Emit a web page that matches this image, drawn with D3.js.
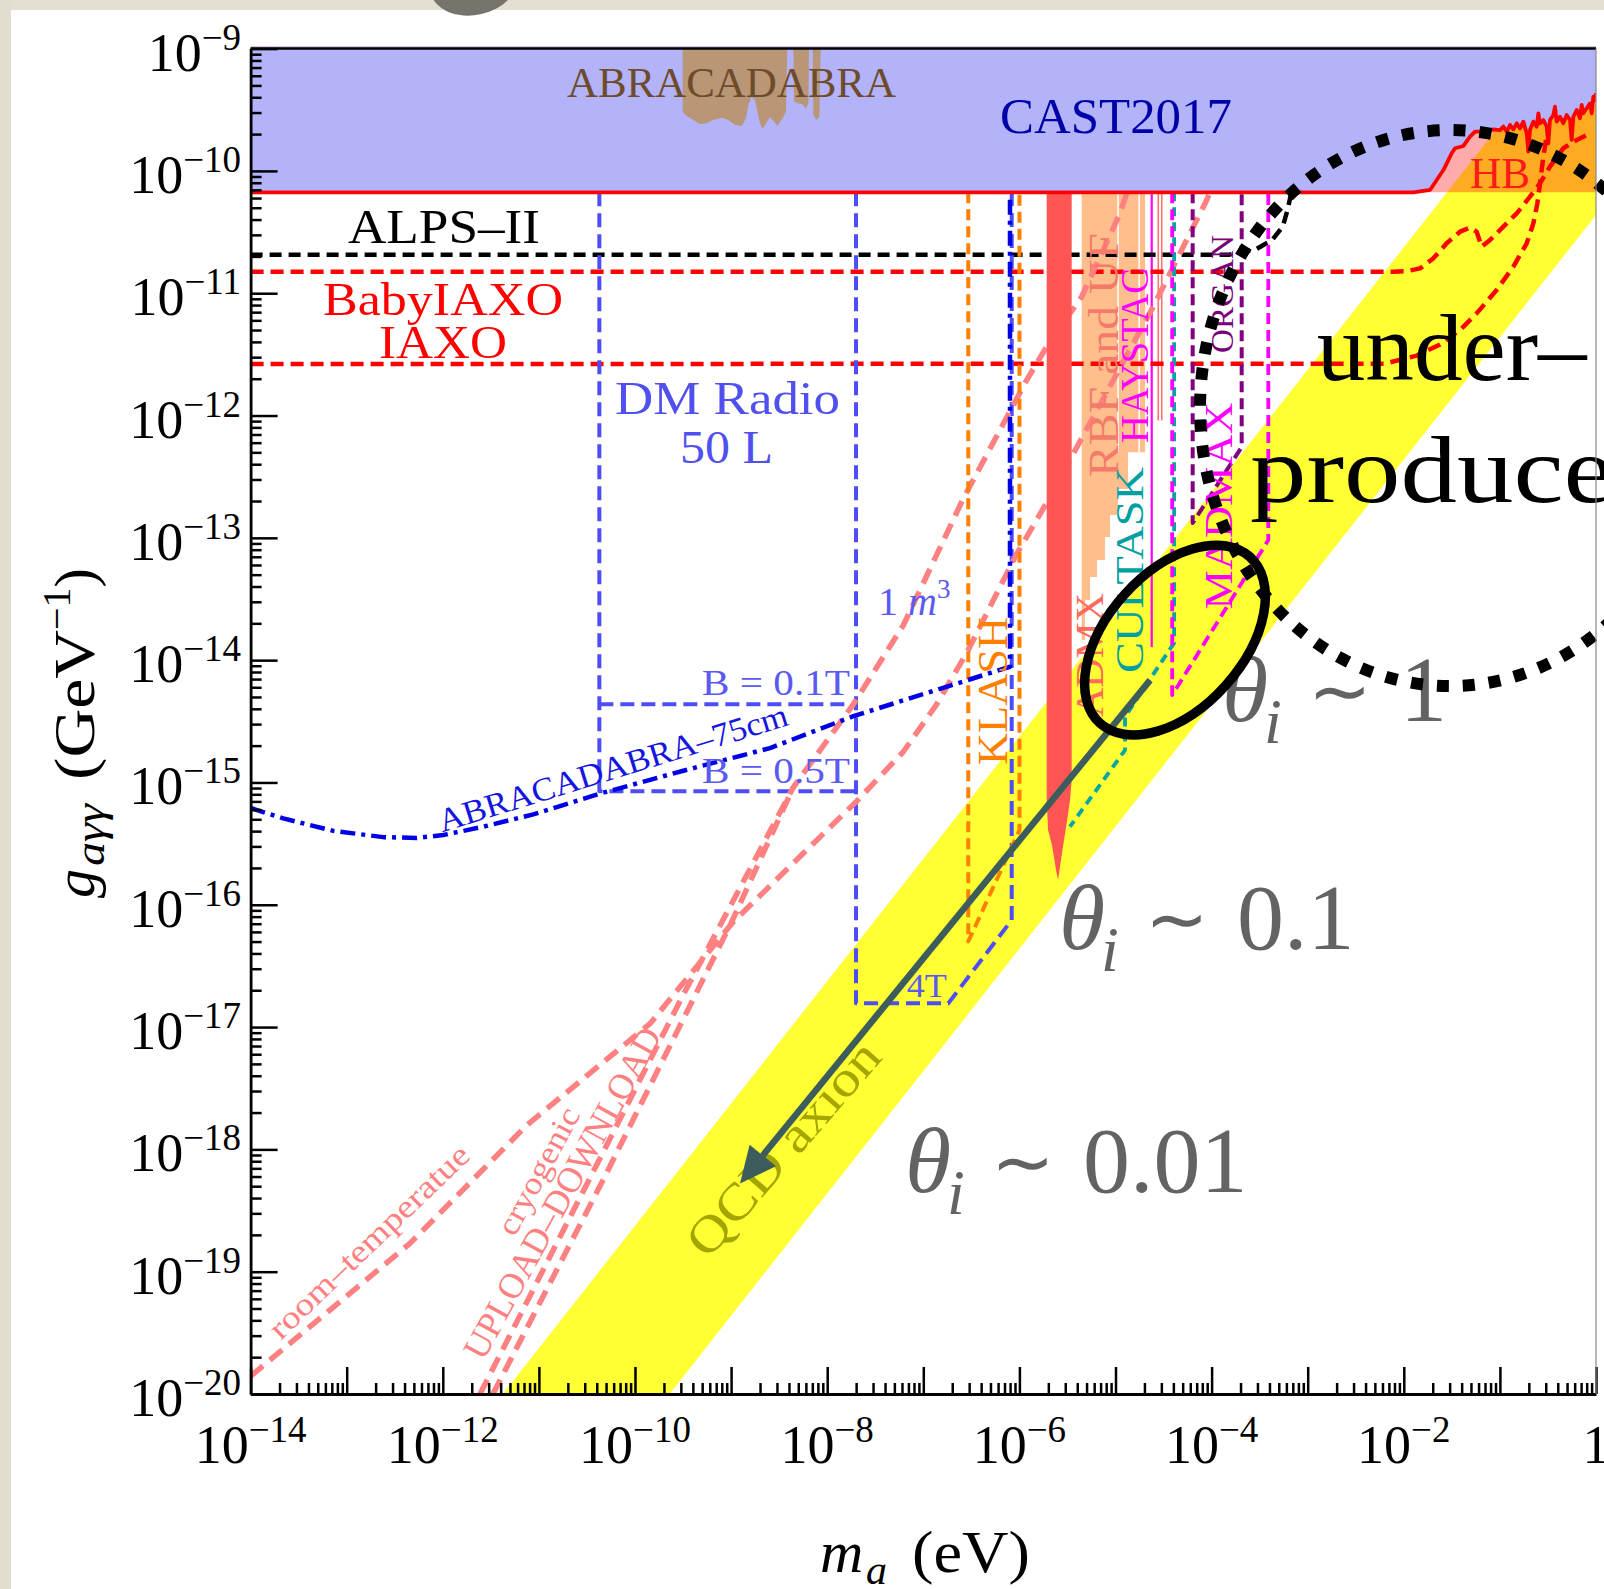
<!DOCTYPE html>
<html>
<head>
<meta charset="utf-8">
<script src="https://cdn.jsdelivr.net/npm/d3@7"></script>
<style>
  html, body { margin: 0; padding: 0; background: #ffffff; }
  svg { display: block; }
  text { font-family: 'Liberation Serif', 'Times New Roman', serif; }
</style>
</head>
<body>
<svg id="chart" width="1604" height="1589"></svg>
<script>
// ---------- axis ranges & ticks (log10 exponents) ----------
const massDomain = [1e-14, 1];
const couplingDomain = [1e-20, 1e-9];
const xMajorExp = d3.range(-14, 1);          // every decade gets a long tick
const xLabelExp = [-14, -12, -10, -8, -6, -4, -2, 0];
const yMajorExp = d3.range(-20, -8);
const yLabelExp = d3.range(-20, -8);

// ---------- curves, all as [log10 m_a (eV), log10 g (GeV^-1)] ----------
const castLimit = [
  [-14, -10.175], [-1.90, -10.175], [-1.727, -10.156], [-1.658, -10.074], [-1.588, -9.993],
  [-1.502, -9.856], [-1.467, -9.815], [-1.380, -9.796], [-1.311, -9.720], [-1.259, -9.679],
  [-1.138, -9.679], [-1.068, -9.660], [-0.999, -9.666], [-0.964, -9.638], [-0.929, -9.679],
  [-0.895, -9.625], [-0.860, -9.660], [-0.825, -9.611], [-0.791, -9.652], [-0.756, -9.597],
  [-0.721, -9.693], [-0.704, -9.843], [-0.687, -9.666], [-0.652, -9.597], [-0.617, -9.638],
  [-0.600, -9.529], [-0.583, -9.611], [-0.548, -9.584], [-0.513, -9.638], [-0.496, -9.775],
  [-0.479, -9.584], [-0.444, -9.543], [-0.427, -9.475], [-0.409, -9.597], [-0.375, -9.557],
  [-0.340, -9.611], [-0.305, -9.543], [-0.270, -9.584], [-0.253, -9.747], [-0.236, -9.557],
  [-0.201, -9.502], [-0.167, -9.570], [-0.149, -9.461], [-0.132, -9.529], [-0.097, -9.488],
  [-0.062, -9.448], [-0.045, -9.529], [-0.028, -9.393], [-0.010, -9.420], [0, -9.366]
];
const hbLimit = -10.175;

const abraTenCm = [
  [[-9.504, -9.0], [-9.504, -9.516], [-9.462, -9.551], [-9.393, -9.584], [-9.324, -9.617],
   [-9.254, -9.611], [-9.185, -9.584], [-9.098, -9.565], [-9.029, -9.584], [-8.959, -9.625],
   [-8.890, -9.633], [-8.845, -9.570], [-8.821, -9.461], [-8.786, -9.393], [-8.751, -9.420],
   [-8.727, -9.516], [-8.699, -9.611], [-8.672, -9.660], [-8.637, -9.611], [-8.595, -9.562],
   [-8.554, -9.597], [-8.519, -9.633], [-8.474, -9.584], [-8.429, -9.516], [-8.415, -9.0]],
  [[-8.352, -9.0], [-8.345, -9.434], [-8.300, -9.448], [-8.259, -9.453], [-8.221, -9.489],
   [-8.196, -9.448], [-8.189, -9.0]],
  [[-8.151, -9.0], [-8.144, -9.543], [-8.110, -9.584], [-8.082, -9.557], [-8.068, -9.0]]
];

const qcdBandUpper = [[-11.375, -20], [0, -8.625]];
const qcdBandLower = [[-9.64, -20], [0, -10.36]];

const alpsII = [[-14, -10.685], [-3.82, -10.685], [-3.54, -10.641], [-3.37, -10.565],
  [-3.26, -10.456], [-3.21, -10.319], [-3.18, -10.211], [-3.17, -10.175]];

const babyIaxo = [[-14, -10.824], [-2.109, -10.824], [-1.970, -10.820], [-1.831, -10.797],
  [-1.693, -10.715], [-1.554, -10.592], [-1.415, -10.497], [-1.311, -10.464], [-1.242, -10.497],
  [-1.190, -10.619], [-1.103, -10.565], [-0.964, -10.456], [-0.825, -10.347], [-0.687, -10.211],
  [-0.583, -10.102], [-0.479, -9.965], [-0.340, -9.815], [-0.201, -9.747], [-0.062, -9.693]];

const iaxo = [[-14, -11.579], [-2.20, -11.576], [-1.866, -11.51], [-1.623, -11.42],
  [-1.40, -11.29], [-1.242, -11.165], [-1.034, -10.974], [-0.860, -10.783], [-0.721, -10.592],
  [-0.652, -10.429], [-0.610, -10.265], [-0.583, -10.102], [-0.548, -9.884], [-0.520, -9.747]];

const dmRadio50L = [[-10.371, -10.175], [-10.371, -15.072], [-7.70, -15.072]];
const dmRadio50LLowField = [[-10.371, -14.361], [-7.70, -14.361]];
const dmRadio1m3 = [[-7.70, -10.175], [-7.70, -16.806], [-6.74, -16.806], [-6.08, -16.125], [-6.08, -10.175]];

const abra75cm = [[-14, -15.209], [-13.660, -15.294], [-13.139, -15.396], [-12.619, -15.447],
  [-12.272, -15.454], [-11.995, -15.430], [-11.579, -15.362], [-11.058, -15.261],
  [-10.364, -15.091], [-9.497, -14.904], [-8.595, -14.719], [-7.728, -14.458],
  [-6.098, -14.054], [-6.098, -10.175]];

const lcRoomTemp = [[-14, -19.854], [-12.342, -18.769], [-11.127, -17.803], [-9.844, -16.972],
  [-8.977, -16.139], [-7.693, -15.153], [-7.208, -14.749], [-6.861, -14.361], [-6.548, -13.940],
  [-6.028, -13.132], [-5.716, -12.712], [-4.607, -11.110], [-4.051, -10.238], [-4.017, -10.175]];
const uploadDownload = [[-11.613, -20.0], [-9.497, -16.735], [-8.353, -15.040], [-7.728, -14.361],
  [-7.208, -13.715], [-6.584, -12.679], [-5.924, -11.710], [-5.716, -11.437], [-5.352, -11.029],
  [-4.953, -10.347], [-4.880, -10.175]];
const lcCryogenic = [[-11.478, -20.0], [-10.3, -18.2], [-9.0, -16.15], [-8.353, -15.040]];

const klash = [[-6.532, -10.175], [-6.532, -16.30], [-5.999, -15.39], [-5.999, -10.175]];

const admxRegion = [[-5.716, -10.175], [-5.716, -15.144], [-5.702, -15.389], [-5.661, -15.512],
  [-5.619, -15.716], [-5.598, -15.798], [-5.567, -15.634], [-5.536, -15.471], [-5.504, -15.308],
  [-5.473, -15.144], [-5.456, -14.981], [-5.456, -10.175]];

const rbfUfRegion = [[-5.352, -10.175], [-4.692, -10.175], [-4.692, -12.30], [-4.870, -12.30],
  [-4.870, -12.60], [-4.974, -12.60], [-4.974, -12.814], [-5.057, -12.814], [-5.057, -12.994],
  [-5.109, -12.994], [-5.109, -13.182], [-5.192, -13.182], [-5.192, -13.321], [-5.265, -13.321],
  [-5.265, -13.509], [-5.317, -13.509], [-5.317, -13.836], [-5.352, -13.836]];
const rbfUfGaps = [[[-4.974, -10.175], [-4.974, -12.30]], [[-4.754, -10.175], [-4.754, -12.30]]];

const haystacLine = [[-4.623, -10.175], [-4.623, -13.893]];
const thinSalmonLines = [[[-4.555, -10.175], [-4.555, -12.04]], [[-4.519, -10.175], [-4.519, -12.04]]];

const cultask = [[-4.39, -10.175], [-4.39, -13.860], [-4.901, -14.463], [-4.901, -14.735], [-5.474, -15.362]];
const madmax = [[-4.41, -10.175], [-4.41, -14.285], [-3.410, -13.018], [-3.410, -10.175]];
const organ = [[-4.197, -10.175], [-4.197, -12.879], [-3.687, -12.258], [-3.687, -10.175]];

const arrowFrom = [-4.640, -14.163];
const arrowTo = [-8.907, -18.278];
const thetaOneEllipse = { center: [-4.381, -13.836], rx: 112, ry: 68, angle: -48 };
const underProducedEllipse = { center: [-1.519, -11.939], rx: 250, ry: 278 };

// ---------- scales ----------
const X0 = 250.6, X1 = 1596, Y0 = 48.6, Y1 = 1394;
const x = d3.scaleLog().domain(massDomain).range([X0, X1]);
const y = d3.scaleLog().domain(couplingDomain).range([Y1, Y0]);
const px = d => x(Math.pow(10, d[0]));
const py = d => y(Math.pow(10, d[1]));
const line = d3.line().x(px).y(py);

const svg = d3.select('#chart');

// page frame
svg.append('rect').attr('width', 1604).attr('height', 1589).attr('fill', '#ffffff');
svg.append('rect').attr('x', 0).attr('y', 0).attr('width', 1604).attr('height', 10).attr('fill', '#e4dfd1');
svg.append('rect').attr('x', 0).attr('y', 0).attr('width', 11).attr('height', 1589).attr('fill', '#e2ddcf');
svg.append('ellipse').attr('cx', 474).attr('cy', -16).attr('rx', 44).attr('ry', 31)
  .attr('transform', 'rotate(-12,474,-16)').attr('fill', '#76746a');

const defs = svg.append('defs');
defs.append('clipPath').attr('id', 'plotClip').append('rect')
  .attr('x', X0).attr('y', Y0 - 2).attr('width', X1 - X0).attr('height', Y1 - Y0 + 2);

const plot = svg.append('g').attr('clip-path', 'url(#plotClip)');

// QCD axion band
plot.append('path')
  .attr('d', line(qcdBandUpper.concat(qcdBandLower.slice().reverse())) + 'Z')
  .attr('fill', '#ffff33');

// horizontal-branch bound (translucent, under the helioscope limit)
plot.append('path')
  .attr('d', line([[-14, hbLimit], [0, hbLimit], [0, -8.9], [-14, -8.9]]) + 'Z')
  .attr('fill', 'rgba(255,0,0,0.33)');

// CAST 2017 excluded region
plot.append('path')
  .attr('d', line(castLimit.concat([[0, -8.9], [-14, -8.9]])) + 'Z')
  .attr('fill', '#b3b3fa');

// ABRACADABRA-10cm excluded region
abraTenCm.forEach(part => {
  plot.append('path').attr('d', line(part) + 'Z').attr('fill', '#b99676');
});

// RBF & UF region
plot.append('path').attr('d', line(rbfUfRegion) + 'Z').attr('fill', '#ffbe8c');
rbfUfGaps.forEach(g => plot.append('path').attr('d', line(g))
  .attr('stroke', '#ffffff').attr('stroke-width', 1.5).attr('fill', 'none'));

// HAYSTAC and neighbouring thin limits
plot.append('path').attr('d', line(haystacLine)).attr('stroke', '#ff00ff').attr('stroke-width', 2.2).attr('fill', 'none');
thinSalmonLines.forEach(g => plot.append('path').attr('d', line(g))
  .attr('stroke', '#ff7070').attr('stroke-width', 1.6).attr('fill', 'none'));

function dashed(data, color, width, dash) {
  return plot.append('path').attr('d', line(data)).attr('fill', 'none')
    .attr('stroke', color).attr('stroke-width', width).attr('stroke-dasharray', dash)
    .attr('stroke-linejoin', 'round');
}

// projected sensitivities
dashed(alpsII, '#000000', 4.5, '12,7');
dashed(babyIaxo, '#ff0000', 4.5, '13,7');
dashed(iaxo, '#ff0000', 4.5, '13,7');
dashed(dmRadio50L, '#4d4df5', 4, '14,7');
dashed(dmRadio50LLowField, '#4d4df5', 4, '14,7');
dashed(dmRadio1m3, '#4d4df5', 4, '14,7');
dashed(lcRoomTemp, '#ff8080', 5.5, '16,9');
dashed(uploadDownload, '#ff8080', 5.5, '16,9');
dashed(lcCryogenic, '#ff8080', 5.5, '16,9');
dashed(klash, '#ff8000', 4, '11,6');
dashed(abra75cm, '#0000e6', 4.5, '15,6,4,6');
dashed(cultask, '#00a5a5', 3.8, '9,6');
dashed(madmax, '#ff00ff', 3.8, '11,6');
dashed(organ, '#800080', 4, '11,6');

// ADMX excluded region
plot.append('path').attr('d', line(admxRegion) + 'Z').attr('fill', '#ff5555');

// CAST limit line
plot.append('path').attr('d', line(castLimit)).attr('fill', 'none')
  .attr('stroke', '#ff0000').attr('stroke-width', 3.8).attr('stroke-linejoin', 'round');

// ---------- labels inside the plot ----------
function label(txt, pos, o) {
  const X = px(pos), Y = py(pos);
  const t = svg.append('text').attr('x', X).attr('y', Y)
    .attr('font-size', o.size).attr('fill', o.color)
    .attr('text-anchor', o.anchor || 'middle');
  if (o.rotate) t.attr('transform', `rotate(${o.rotate},${X},${Y})`);
  if (o.central) t.attr('dy', '0.33em');
  if (o.len) t.attr('textLength', o.len).attr('lengthAdjust', 'spacingAndGlyphs');
  if (o.italic) t.attr('font-style', 'italic');
  t.text(txt);
  return t;
}

label('ABRACADABRA', [-8.996, -9.396], { size: 42, color: '#6e4b2a', len: 329 });
label('CAST2017', [-4.995, -9.690], { size: 50, color: '#0000a8', len: 232 });
label('ALPS\u2013II', [-11.988, -10.590], { size: 48, color: '#000000', len: 192 });
label('BabyIAXO', [-11.998, -11.178], { size: 46, color: '#ff0000', len: 240 });
label('IAXO', [-11.998, -11.530], { size: 46, color: '#ff0000', len: 128 });
label('DM Radio', [-9.037, -11.984], { size: 46, color: '#5050ee', len: 225 });
label('50 L', [-9.048, -12.388], { size: 46, color: '#5050ee', len: 93 });
label('B = 0.1T', [-7.763, -14.281], { size: 36, color: '#5a5af0', len: 148, anchor: 'end' });
label('B = 0.5T', [-7.763, -15.007], { size: 36, color: '#5a5af0', len: 148, anchor: 'end' });
label('4T', [-7.173, -16.752], { size: 34, color: '#5a5af0', len: 40, anchor: 'start' });
label('HB', [-0.998, -10.142], { size: 44, color: '#ff1a1a', len: 60 });

// "1 m^3"
{
  const p = [-7.471, -13.631];
  const t = svg.append('text').attr('x', px(p)).attr('y', py(p)).attr('font-size', 40).attr('fill', '#5a5af0');
  t.append('tspan').text('1 ');
  t.append('tspan').attr('font-style', 'italic').text('m');
  t.append('tspan').attr('font-size', 27).attr('dy', -17).text('3');
}

// vertical experiment names
label('KLASH', [-6.129, -14.252], { size: 42, color: '#ff8000', len: 148, rotate: -90 });
label('ADMX', [-5.130, -13.958], { size: 40, color: '#ff6a5a', len: 124, rotate: -90 });
label('RBF and UF', [-4.974, -11.505], { size: 42, color: '#f47a6a', len: 244, rotate: -90 });
label('HAYSTAC', [-4.662, -11.509], { size: 40, color: '#ff00ff', len: 175, rotate: -90 });
label('CULTASK', [-4.714, -13.263], { size: 40, color: '#00a0a0', len: 206, rotate: -90 });
label('MADMAX', [-3.788, -12.740], { size: 40, color: '#ff00ff', len: 207, rotate: -90 });
label('ORGAN', [-3.777, -11.007], { size: 32, color: '#7a007a', len: 118, rotate: -90 });

// slanted labels
label('ABRACADABRA\u201375cm', [-10.229, -14.882], { size: 33, color: '#1515e0', len: 364, rotate: -17.2, central: true });
label('room\u2013temperatue', [-12.768, -18.754], { size: 32, color: '#ff8080', len: 265, rotate: -43.8, central: true });
label('cryogenic', [-11.004, -18.177], { size: 32, color: '#ff8080', len: 140, rotate: -61.7, central: true });
label('UPLOAD\u2013DOWNLOAD', [-10.754, -18.357], { size: 36, color: '#ff8080', len: 372, rotate: -61.2, central: true });
label('QCD axion', [-8.457, -17.992], { size: 50, color: '#a5a500', len: 268, rotate: -49, central: true });

// initial misalignment angle labels
function thetaLabel(pos, value) {
  const X = px(pos), Y = py(pos);
  const g = svg.append('g').attr('fill', '#636363');
  g.append('text').attr('x', X).attr('y', Y).attr('font-size', 94).attr('font-style', 'italic').text('\u03b8');
  g.append('text').attr('x', X + 42).attr('y', Y + 22).attr('font-size', 64).attr('font-style', 'italic').text('i');
  g.append('text').attr('x', X + 86).attr('y', Y - 4).attr('font-size', 76)
    .style('font-family', "'DejaVu Sans', sans-serif").text('\u223c');
  g.append('text').attr('x', X + 178).attr('y', Y).attr('font-size', 94).text(value);
}
thetaLabel([-3.892, -14.498], '1');
thetaLabel([-5.588, -16.362], '0.1');
thetaLabel([-7.190, -18.347], '0.01');

// under-produced region text
label('under\u2013', [-2.906, -11.710], { size: 96, color: '#000000', len: 270, anchor: 'start' });
label('produced', [-3.600, -12.705], { size: 96, color: '#000000', len: 420, anchor: 'start' });

// arrow along the QCD band
{
  const sx = px(arrowFrom), sy = py(arrowFrom), tx = px(arrowTo), ty = py(arrowTo);
  const L = Math.hypot(tx - sx, ty - sy), ux = (tx - sx) / L, uy = (ty - sy) / L;
  const bx = tx - 36 * ux, by = ty - 36 * uy, nx = -uy, ny = ux;
  svg.append('line').attr('x1', sx).attr('y1', sy).attr('x2', bx).attr('y2', by)
    .attr('stroke', '#3d5c5c').attr('stroke-width', 6.5);
  svg.append('path')
    .attr('d', `M${tx},${ty}L${bx + 17 * nx},${by + 17 * ny}L${bx - 17 * nx},${by - 17 * ny}Z`)
    .attr('fill', '#3d5c5c');
}

// ellipses
{
  const e = thetaOneEllipse, cx = px(e.center), cy = py(e.center);
  svg.append('ellipse').attr('cx', cx).attr('cy', cy).attr('rx', e.rx).attr('ry', e.ry)
    .attr('transform', `rotate(${e.angle},${cx},${cy})`)
    .attr('fill', 'none').attr('stroke', '#000').attr('stroke-width', 9.5);
  const u = underProducedEllipse;
  svg.append('ellipse').attr('cx', px(u.center)).attr('cy', py(u.center)).attr('rx', u.rx).attr('ry', u.ry)
    .attr('fill', 'none').attr('stroke', '#000').attr('stroke-width', 12).attr('stroke-dasharray', '12,14');
}

// ---------- axes ----------
const minorX = [], minorY = [];
for (let e = -14; e < 0; e++) for (let j = 2; j <= 9; j++) minorX.push(j * Math.pow(10, e));
for (let e = -20; e < -9; e++) for (let j = 2; j <= 9; j++) minorY.push(j * Math.pow(10, e));

function styleAxis(g) {
  g.selectAll('line').attr('stroke', '#000').attr('stroke-width', 2.5);
  g.selectAll('path.domain').attr('stroke', '#000').attr('stroke-width', 2.8);
  g.selectAll('text').remove();
}
svg.append('g').attr('transform', `translate(0,${Y1})`)
  .call(d3.axisBottom(x).tickValues(xMajorExp.map(e => Math.pow(10, e))).tickSize(-27).tickSizeOuter(0).tickFormat(''))
  .call(styleAxis);
svg.append('g').attr('transform', `translate(0,${Y1})`)
  .call(d3.axisBottom(x).tickValues(minorX).tickSize(-11).tickSizeOuter(0).tickFormat(''))
  .call(styleAxis).select('path.domain').remove();
svg.append('g').attr('transform', `translate(${X0},0)`)
  .call(d3.axisLeft(y).tickValues(yMajorExp.map(e => Math.pow(10, e))).tickSize(-27).tickSizeOuter(0).tickFormat(''))
  .call(styleAxis);
svg.append('g').attr('transform', `translate(${X0},0)`)
  .call(d3.axisLeft(y).tickValues(minorY).tickSize(-11).tickSizeOuter(0).tickFormat(''))
  .call(styleAxis).select('path.domain').remove();
// top and right frame
svg.append('line').attr('x1', X0).attr('x2', X1).attr('y1', Y0).attr('y2', Y0).attr('stroke', '#000').attr('stroke-width', 2.5);
svg.append('line').attr('x1', X1).attr('x2', X1).attr('y1', Y0).attr('y2', Y1).attr('stroke', '#888').attr('stroke-width', 1.2);

// tick labels
xLabelExp.forEach(e => {
  const t = svg.append('text').attr('x', x(Math.pow(10, e))).attr('y', 1463)
    .attr('text-anchor', 'middle').attr('font-size', 54).attr('fill', '#000');
  if (e === 0) { t.text('1'); return; }
  t.append('tspan').text('10');
  t.append('tspan').attr('font-size', 37).attr('dy', -21).text('\u2212' + Math.abs(e));
});
yLabelExp.forEach(e => {
  const t = svg.append('text').attr('x', 241).attr('y', y(Math.pow(10, e)) + 22)
    .attr('text-anchor', 'end').attr('font-size', 54).attr('fill', '#000');
  t.append('tspan').text('10');
  t.append('tspan').attr('font-size', 37).attr('dy', -21).text('\u2212' + Math.abs(e));
});

// axis titles
{
  const t = svg.append('text').attr('y', 1572).attr('font-size', 60).attr('fill', '#000');
  t.append('tspan').attr('x', 820).attr('font-style', 'italic').text('m');
  t.append('tspan').attr('x', 866).attr('dy', 12).attr('font-size', 42).attr('font-style', 'italic').text('a');
  t.append('tspan').attr('x', 912).attr('dy', -12).attr('textLength', 118).attr('lengthAdjust', 'spacingAndGlyphs').text('(eV)');
}
{
  const g = svg.append('g').attr('transform', 'translate(94,0) rotate(-90)');
  const t = g.append('text').attr('y', 0).attr('font-size', 58).attr('fill', '#000');
  t.append('tspan').attr('x', -898).attr('font-style', 'italic').text('g');
  t.append('tspan').attr('x', -866).attr('dy', 10).attr('font-size', 40).attr('font-style', 'italic')
    .attr('textLength', 62).attr('lengthAdjust', 'spacingAndGlyphs').text('a\u03b3\u03b3');
  t.append('tspan').attr('x', -780).attr('dy', -10).attr('textLength', 150).attr('lengthAdjust', 'spacingAndGlyphs').text('(GeV');
  t.append('tspan').attr('dy', -24).attr('font-size', 40).text('\u22121');
  t.append('tspan').attr('dy', 24).text(')');
}
</script>
</body>
</html>
